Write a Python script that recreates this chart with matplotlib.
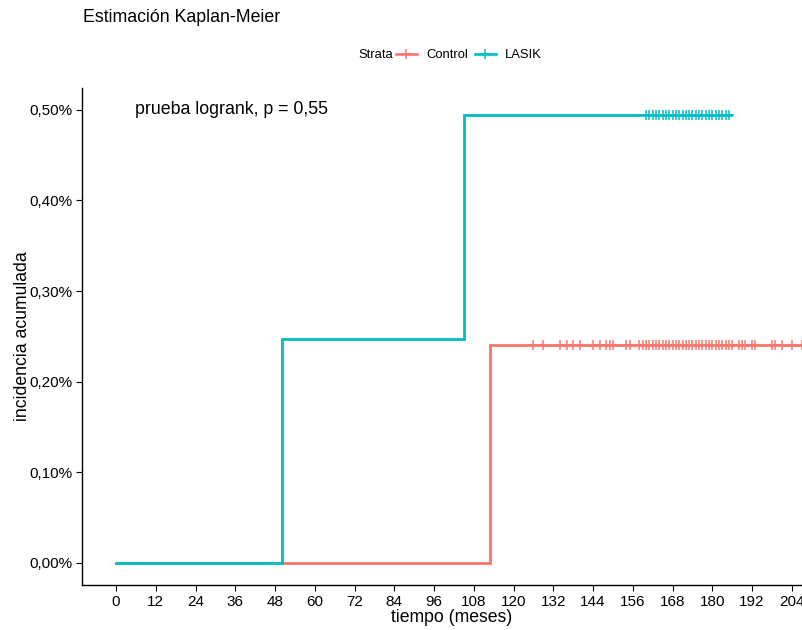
import matplotlib
matplotlib.use('Agg')
import matplotlib.pyplot as plt
from matplotlib.lines import Line2D
from matplotlib.ticker import FuncFormatter

plt.rcParams['font.family'] = ['Liberation Sans', 'DejaVu Sans']

# Datos (tiempo en meses, incidencia acumulada como proporcion)
tiempo_control = [0, 113, 212]
incid_control = [0.0, 0.00241, 0.00241]
censura_control = [126, 129, 134, 136, 138, 140, 144, 146, 148, 149, 150, 154, 155,
                   158, 159, 160, 161, 162, 163, 164, 165, 166, 167, 168, 169, 170,
                   171, 172, 173, 174, 175, 176, 177, 178, 179, 180, 181, 182, 183,
                   184, 185, 186, 188, 189, 190, 192, 193, 198, 199, 201, 204, 207]

tiempo_lasik = [0, 50.2, 105, 185.5]
incid_lasik = [0.0, 0.00247, 0.00494, 0.00494]
censura_lasik = list(range(160, 186))

COLOR_CONTROL = '#F8766D'
COLOR_LASIK = '#00BFC4'

fig = plt.figure(figsize=(8.03, 6.30), dpi=100)
ax = fig.add_axes([82 / 803, 45 / 630, 740 / 803, 497 / 630])


def nivel_en(t, tiempos, valores):
    v = valores[0]
    for tt, vv in zip(tiempos, valores):
        if t >= tt:
            v = vv
    return v


# Control
ax.step(tiempo_control, incid_control, where='post', color=COLOR_CONTROL, lw=2.0,
        solid_joinstyle='miter')
ax.plot(censura_control, [nivel_en(t, tiempo_control, incid_control) for t in censura_control],
        linestyle='none', marker='+', markersize=7, mew=1.1, color=COLOR_CONTROL)

# LASIK
ax.step(tiempo_lasik, incid_lasik, where='post', color=COLOR_LASIK, lw=2.0,
        solid_joinstyle='miter')
ax.plot(censura_lasik, [nivel_en(t, tiempo_lasik, incid_lasik) for t in censura_lasik],
        linestyle='none', marker='+', markersize=7, mew=1.1, color=COLOR_LASIK)

ax.set_xlim(-10.3, 213.1)
ax.set_ylim(-0.000243, 0.00524)
ax.set_xticks(range(0, 205, 12))
ax.set_yticks([0, 0.001, 0.002, 0.003, 0.004, 0.005])
ax.yaxis.set_major_formatter(FuncFormatter(lambda v, p: f'{v * 100:.2f}%'.replace('.', ',')))

for lado in ['top', 'right']:
    ax.spines[lado].set_visible(False)
for lado in ['left', 'bottom']:
    ax.spines[lado].set_linewidth(1.0)
ax.tick_params(axis='both', labelsize=11, length=4, width=0.8, colors='black', pad=3)

ax.set_xlabel('tiempo (meses)', fontsize=12.7, labelpad=0)
ax.set_ylabel('incidencia acumulada', fontsize=12.7, labelpad=-1)

ax.text(5.7, 0.005, 'prueba logrank, p = 0,55', fontsize=12.8, ha='left', va='center')

fig.text(83 / 803, 1 - 17 / 630, 'Estimación Kaplan-Meier', fontsize=12.8, ha='left', va='center')

# Leyenda superior
fig.text(358 / 803, 1 - 55 / 630, 'Strata', fontsize=9.4, ha='left', va='center')
manejadores = [Line2D([], [], color=COLOR_CONTROL, lw=1.9, marker='+', markersize=7, mew=1.1),
               Line2D([], [], color=COLOR_LASIK, lw=1.9, marker='+', markersize=7, mew=1.1)]
fig.legend(manejadores, ['Control', 'LASIK'], loc='center left',
           bbox_to_anchor=(396 / 803, 1 - 55 / 630), ncol=2, frameon=False,
           fontsize=9.4, handlelength=1.6, handletextpad=0.69, columnspacing=0.54,
           borderpad=0, borderaxespad=0)

fig.savefig('out.png', dpi=100)
